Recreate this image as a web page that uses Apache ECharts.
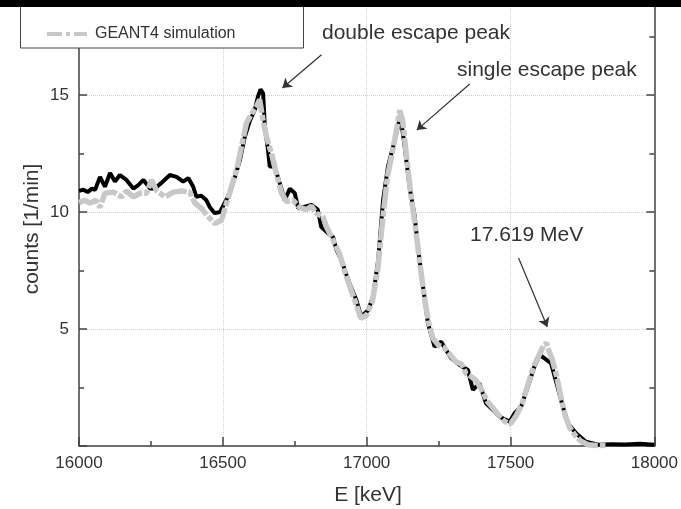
<!DOCTYPE html>
<html>
<head>
<meta charset="utf-8">
<script src="https://cdn.jsdelivr.net/npm/echarts@6/dist/echarts.min.js"></script>
<style>html,body{margin:0;padding:0;background:#fff;}#c{width:681px;height:509px;}</style>
</head>
<body>
<div id="c"></div>
<script>
// Experimental spectrum (black)
var expE = [16000,16015,16030,16045,16056,16073,16090,16108,16125,16142,16165,16189,16206,16224,16247,16264,16287,16316,16339,16362,16380,16397,16408,16425,16443,16455,16472,16490,16507,16524,16542,16559,16576,16594,16611,16622,16631,16640,16646,16657,16663,16680,16698,16715,16733,16750,16762,16785,16808,16830,16842,16866,16883,16895,16912,16930,16945,16964,16981,17005,17022,17040,17057,17074,17092,17109,17117,17132,17149,17167,17178,17196,17213,17236,17259,17276,17294,17323,17352,17369,17392,17415,17439,17462,17497,17514,17537,17560,17583,17601,17618,17641,17660,17682,17699,17728,17762,17809,17850,17900,17950,18000];
var expV = [10.9,10.95,10.85,11.0,10.95,11.5,11.08,11.67,11.3,11.58,11.37,11.0,11.15,11.37,11.0,11.0,11.25,11.58,11.5,11.3,11.45,11.08,10.65,10.7,10.5,10.2,9.95,10.0,10.4,10.8,11.5,12.2,13.2,13.9,14.36,14.93,15.24,15.07,13.65,12.65,11.94,11.94,11.23,10.5,11.0,10.8,10.16,10.23,10.3,10.1,9.37,9.09,8.94,8.38,7.95,7.3,6.8,6.24,5.53,5.8,6.38,7.95,10.5,11.94,12.8,13.65,14.15,12.8,11.08,9.8,8.52,6.8,5.24,4.24,4.46,4.1,3.75,3.46,3.25,2.4,2.68,1.82,1.54,1.25,1.04,1.4,1.68,2.53,3.39,3.89,3.75,3.53,2.68,1.68,0.97,0.54,0.18,0.05,0.08,0.06,0.1,0.05];
// GEANT4 simulation (grey)
var simE = [16000,16020,16038,16059,16073,16090,16120,16148,16165,16189,16212,16235,16252,16270,16299,16328,16357,16385,16403,16426,16449,16472,16495,16513,16530,16548,16565,16582,16600,16617,16628,16640,16652,16669,16686,16704,16721,16744,16767,16790,16808,16825,16848,16860,16883,16906,16925,16945,16962,16980,17000,17020,17038,17055,17072,17090,17105,17115,17125,17140,17155,17170,17185,17200,17215,17230,17250,17270,17290,17310,17330,17345,17360,17380,17400,17420,17440,17460,17480,17500,17520,17540,17560,17580,17600,17615,17625,17635,17645,17660,17675,17690,17705,17725,17745,17770,17800,17830];
var simV = [10.4,10.5,10.38,10.5,10.2,10.8,10.85,10.65,10.9,10.65,10.8,10.8,11.37,10.9,10.65,10.85,10.9,10.85,10.38,10.15,9.8,9.51,9.65,10.38,11.08,11.8,12.8,13.8,14.2,14.5,14.8,13.9,13.2,12.5,11.65,10.8,10.45,10.5,10.2,10.1,10.25,9.94,9.8,9.37,8.8,8.2,7.4,6.7,6.1,5.45,5.6,6.2,7.5,9.6,11.5,12.6,13.6,14.35,13.9,12.2,10.6,9.3,7.8,6.4,5.3,4.6,4.3,4.2,3.9,3.6,3.5,3.1,3.0,2.8,2.4,1.9,1.6,1.3,1.05,0.95,1.3,1.8,2.6,3.4,3.9,4.3,4.4,4.0,3.7,3.0,2.1,1.3,0.8,0.45,0.2,0.05,0.02,0.02];
var xTicks = [16000,16500,17000,17500,18000];
var yTicks = [5,10,15];
var labels = {xTitle:'E [keV]', yTitle:'counts [1/min]', sim:'GEANT4 simulation', dep:'double escape peak', sep:'single escape peak', full:'17.619 MeV'};

function zip(a,b){var r=[];for(var i=0;i<a.length;i++)r.push([a[i],b[i]]);return r;}

var FONT = '"Liberation Sans", Arial, sans-serif';
var chart = echarts.init(document.getElementById('c'), null, {renderer:'canvas'});
var axisCol = '#444';
var YMAX = 19.06; // top of the visible (cropped) plot frame
function yAx(pos, showLabel){
  return {
    type:'value', position:pos, min:0, max:YMAX, interval:5,
    axisLine:{show:true, onZero:false, lineStyle:{color:axisCol, width:1.5}},
    axisTick:{show:true, inside:true, length:8, lineStyle:{color:axisCol, width:1.5}},
    minorTick:{show:true, splitNumber:2, length:5, lineStyle:{color:axisCol, width:1.5}},
    splitLine:{show:showLabel, lineStyle:{color:'#cfcfcf', type:'dotted', width:1}},
    axisLabel:{show:showLabel, showMaxLabel:false, margin:10, fontSize:17, color:'#333', fontFamily:FONT,
      formatter:function(v){return yTicks.indexOf(v)>=0 ? String(v) : '';}}
  };
}
var option = {
  animation:false,
  backgroundColor:'#fff',
  grid:{left:79, right:26, top:0, bottom:63},
  xAxis:{
    type:'value', min:16000, max:18000, interval:500,
    axisLine:{show:true, onZero:false, lineStyle:{color:axisCol, width:1.5}},
    axisTick:{show:true, inside:true, length:9, lineStyle:{color:axisCol, width:1.5}},
    minorTick:{show:true, splitNumber:2, length:5, lineStyle:{color:axisCol, width:1.5}},
    splitLine:{show:true, lineStyle:{color:'#cfcfcf', type:'dotted', width:1}},
    axisLabel:{margin:9, fontSize:17, color:'#333', fontFamily:FONT,
      formatter:function(v){return xTicks.indexOf(v)>=0 ? String(v) : '';}}
  },
  yAxis:[yAx('left', true), yAx('right', false)],
  series:[
    {type:'line', name:'experiment', data:zip(expE,expV), showSymbol:false, symbol:'none',
     lineStyle:{color:'#000', width:4}, z:2,
     markLine:{silent:true, symbol:['none','arrow'], symbolSize:9,
       label:{show:false}, lineStyle:{color:'#333', width:1.2, type:'solid'},
       data:[
         [{coord:[16843,16.72]},{coord:[16707,15.3]}],
         [{coord:[17358,15.47]},{coord:[17174,13.5]}],
         [{coord:[17528,8.03]},{coord:[17628,5.09]}]
       ]}},
    {type:'line', name:'GEANT4 simulation', data:zip(simE,simV), showSymbol:false, symbol:'none',
     lineStyle:{color:'#c8c8c8', width:5.5, type:[22,2,6,2]}, z:3}
  ],
  graphic:[
    {type:'rect', shape:{x:20.5, y:-20, width:283, height:68}, style:{fill:'#fff', stroke:'#444', lineWidth:1}, z:50},
    {type:'line', shape:{x1:47, y1:34, x2:87, y2:34}, style:{stroke:'#c8c8c8', lineWidth:4, lineDash:[15,4,4,4]}, z:51},
    {type:'text', x:95, y:34, style:{text:labels.sim, font:'16px '+FONT, fill:'#333', textAlign:'left', textVerticalAlign:'middle'}, z:51},
    {type:'text', x:322, y:33, style:{text:labels.dep, font:'21px '+FONT, fill:'#333', textAlign:'left', textVerticalAlign:'middle'}, z:51},
    {type:'text', x:457, y:70, style:{text:labels.sep, font:'21px '+FONT, fill:'#333', textAlign:'left', textVerticalAlign:'middle'}, z:51},
    {type:'text', x:470, y:235, style:{text:labels.full, font:'21px '+FONT, fill:'#333', textAlign:'left', textVerticalAlign:'middle'}, z:51},
    {type:'text', x:368, y:495, style:{text:labels.xTitle, font:'21px '+FONT, fill:'#333', textAlign:'center', textVerticalAlign:'middle'}, z:51},
    {type:'text', x:32, y:229, rotation:Math.PI/2, style:{text:labels.yTitle, font:'21px '+FONT, fill:'#333', textAlign:'center', textVerticalAlign:'middle'}, z:51},
    {type:'rect', shape:{x:0, y:0, width:681, height:7}, style:{fill:'#000'}, z:100}
  ]
};
chart.setOption(option);
</script>
</body>
</html>
